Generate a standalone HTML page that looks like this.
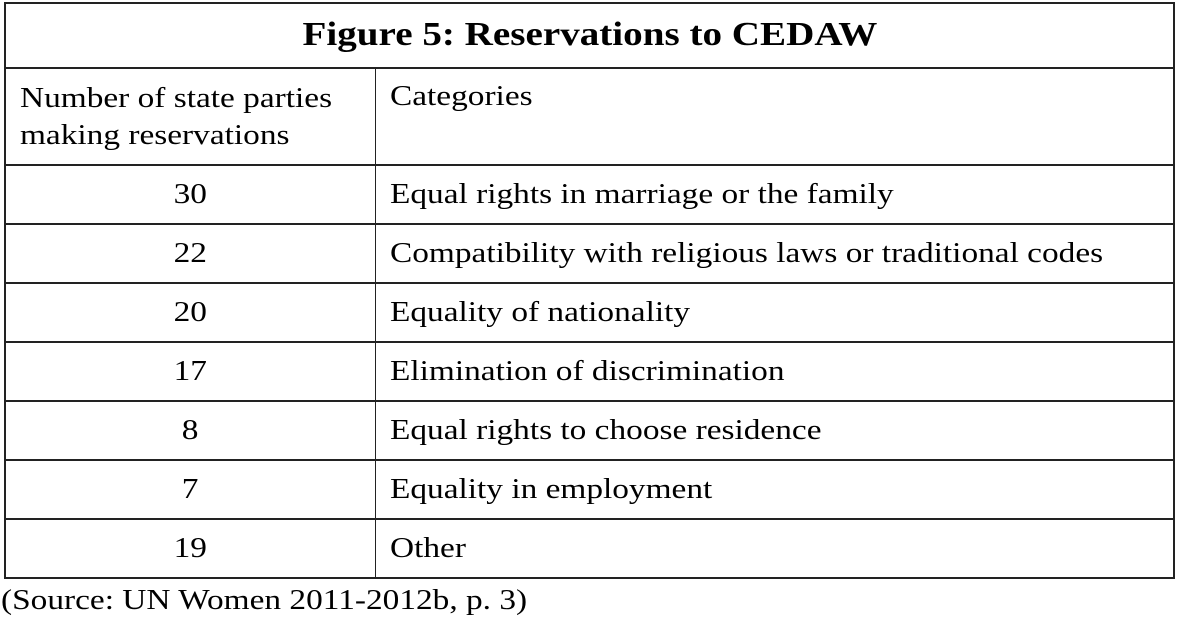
<!DOCTYPE html>
<html><head><meta charset="utf-8"><style>
body{margin:0;width:1178px;height:618px;background:#fff;position:relative;font-family:"Liberation Serif",serif;color:#000;overflow:hidden}
.l{position:absolute;background:#222}
.t{position:absolute;font-size:28.5px;line-height:34px;white-space:nowrap;transform-origin:0 0;transform:scaleX(1.17)}
.c{transform:none}
</style></head><body>
<div>
<div class="l" style="left:4px;top:2px;width:1171px;height:2px"></div>
<div class="l" style="left:4px;top:577px;width:1171px;height:2px"></div>
<div class="l" style="left:4px;top:2px;width:2px;height:577px"></div>
<div class="l" style="left:1173px;top:2px;width:2px;height:577px"></div>
<div class="l" style="left:375px;top:68px;width:1px;height:510px"></div>
<div class="l" style="left:4px;top:67px;width:1171px;height:2px"></div>
<div class="l" style="left:4px;top:164px;width:1171px;height:2px"></div>
<div class="l" style="left:4px;top:223px;width:1171px;height:2px"></div>
<div class="l" style="left:4px;top:282px;width:1171px;height:2px"></div>
<div class="l" style="left:4px;top:341px;width:1171px;height:2px"></div>
<div class="l" style="left:4px;top:400px;width:1171px;height:2px"></div>
<div class="l" style="left:4px;top:459px;width:1171px;height:2px"></div>
<div class="l" style="left:4px;top:518px;width:1171px;height:2px"></div>
<div class="t c" style="left:4px;width:1171px;top:15px;text-align:center;font-weight:bold;font-size:34px;line-height:40px"><span style="display:inline-block;transform:scaleX(1.15)">Figure 5: Reservations to CEDAW</span></div>
<div class="t" style="left:20px;top:80px;line-height:37px">Number of state parties<br>making reservations</div>
<div class="t" style="left:390px;top:80px">Categories</div>
<div class="t c" style="left:6px;width:369px;text-align:center;top:178px"><span style="display:inline-block;transform:scaleX(1.17)">30</span></div>
<div class="t" style="left:390px;top:178px">Equal rights in marriage or the family</div>
<div class="t c" style="left:6px;width:369px;text-align:center;top:237px"><span style="display:inline-block;transform:scaleX(1.17)">22</span></div>
<div class="t" style="left:390px;top:237px">Compatibility with religious laws or traditional codes</div>
<div class="t c" style="left:6px;width:369px;text-align:center;top:296px"><span style="display:inline-block;transform:scaleX(1.17)">20</span></div>
<div class="t" style="left:390px;top:296px">Equality of nationality</div>
<div class="t c" style="left:6px;width:369px;text-align:center;top:355px"><span style="display:inline-block;transform:scaleX(1.17)">17</span></div>
<div class="t" style="left:390px;top:355px">Elimination of discrimination</div>
<div class="t c" style="left:6px;width:369px;text-align:center;top:414px"><span style="display:inline-block;transform:scaleX(1.17)">8</span></div>
<div class="t" style="left:390px;top:414px">Equal rights to choose residence</div>
<div class="t c" style="left:6px;width:369px;text-align:center;top:473px"><span style="display:inline-block;transform:scaleX(1.17)">7</span></div>
<div class="t" style="left:390px;top:473px">Equality in employment</div>
<div class="t c" style="left:6px;width:369px;text-align:center;top:532px"><span style="display:inline-block;transform:scaleX(1.17)">19</span></div>
<div class="t" style="left:390px;top:532px">Other</div>
</div>
<div class="t" style="left:1px;top:584px">(Source: UN Women 2011-2012b, p. 3)</div>
</body></html>
